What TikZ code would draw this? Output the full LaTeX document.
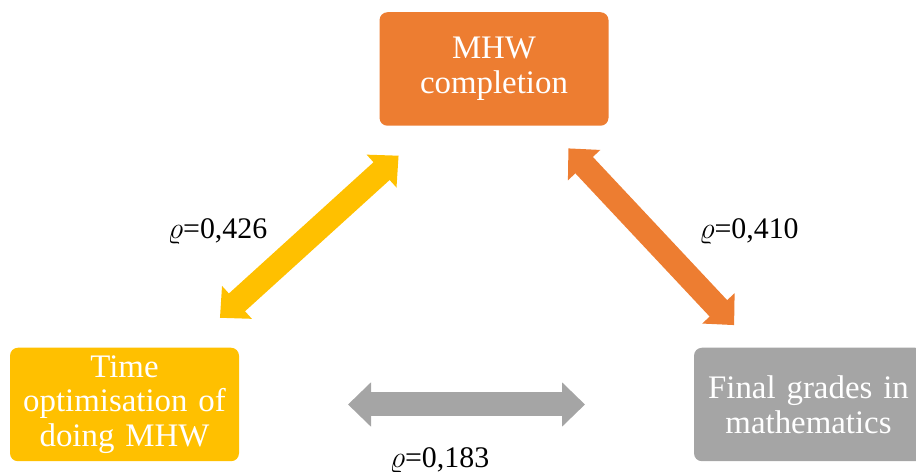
\documentclass[tikz,border=0pt]{standalone}
\usepackage{fontspec}
\setmainfont{Liberation Serif}
\usetikzlibrary{arrows.meta}
\definecolor{orangebox}{HTML}{ED7D31}
\definecolor{yellowbox}{HTML}{FFC000}
\definecolor{greybox}{HTML}{A5A5A5}
\begin{document}
\begin{tikzpicture}
  \tikzset{box/.style = {draw=none, rounded corners=0.16cm, minimum width=4.58cm, minimum height=2.27cm,
      text width=4.4cm, align=center, inner sep=0pt, outer sep=0pt, text=white,
      font=\fontsize{18.7}{19.8}\selectfont}}
  \tikzset{bigarrow/.style = {-, line width=0.48cm,
      {Triangle[length=0.46cm,width=0.86cm]}-{Triangle[length=0.46cm,width=0.86cm]}}}
  \tikzset{coeff/.style = {inner sep=0pt, font=\fontsize{17}{19}\selectfont}}

\useasboundingbox (0,0) rectangle (18.32,9.44);
\clip (0,0) rectangle (18.32,9.44);

\node[box, fill=orangebox] (comp)  at (9.88,8.06) {MHW\\completion};
\node[box, fill=yellowbox] (time)  at (2.49,1.35) {Time\\optimisation of\\doing MHW};
\node[box, fill=greybox]   (grade) at (16.17,1.35) {Final grades in\\mathematics};

    \path (time) edge[bigarrow, draw=yellowbox, shorten <=0.89cm, shorten >=0.89cm]
        node[coeff, midway, left=0.6cm, yshift=0.1cm]{$\varrho$=0,426} (comp);
    \path (comp) edge[bigarrow, draw=orangebox, shorten <=0.62cm, shorten >=0.62cm]
        node[coeff, midway, right=0.72cm, yshift=0.1cm]{$\varrho$=0,410} (grade);

    \path (time) edge[bigarrow, draw=greybox, shorten <=2.18cm, shorten >=2.18cm]
        node[coeff, midway, below=0.62cm, xshift=-0.54cm]{$\varrho$=0,183} (grade);

\end{tikzpicture}
\end{document}
